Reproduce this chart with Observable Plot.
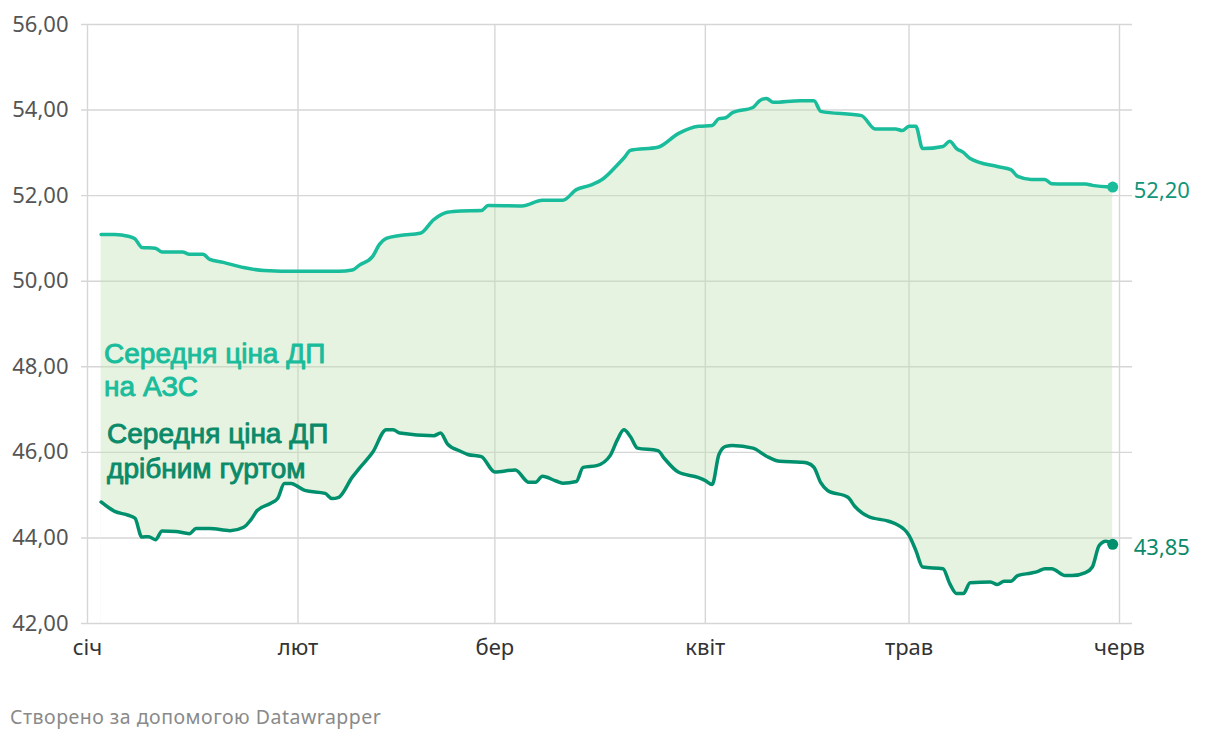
<!DOCTYPE html>
<html><head><meta charset="utf-8">
<script src="https://cdn.jsdelivr.net/npm/d3@7"></script>
<script src="https://cdn.jsdelivr.net/npm/@observablehq/plot@0.6"></script>
<style>
body{margin:0;background:#fff;font-family:"Noto Sans",sans-serif;}
#chart{position:absolute;left:0;top:0;}
#caption{position:absolute;left:10px;top:703px;font:19.5px "Noto Sans",sans-serif;letter-spacing:0.5px;color:#8a8a8a;white-space:nowrap;}
</style></head><body>
<div id="chart"></div>
<div id="caption">Створено за допомогою Datawrapper</div>
<script>
// Ukrainian month tick labels
const monthLabels = ["січ","лют","бер","квіт","трав","черв"];
const monthTickDates = ["2024-01-01","2024-02-01","2024-03-01","2024-04-01","2024-05-01","2024-06-01"];
const yTickValues = [42,44,46,48,50,52,54,56];

// Середня ціна ДП на АЗС
const upperDates = ["2024-01-03","2024-01-05","2024-01-07","2024-01-08","2024-01-09","2024-01-11","2024-01-12","2024-01-15","2024-01-16","2024-01-18","2024-01-19","2024-01-21","2024-01-24","2024-01-27",
"2024-02-01","2024-02-07","2024-02-09","2024-02-10","2024-02-12","2024-02-13","2024-02-14","2024-02-16","2024-02-19","2024-02-21","2024-02-23","2024-02-25","2024-02-28","2024-02-29",
"2024-03-05","2024-03-08","2024-03-11","2024-03-13","2024-03-15","2024-03-17","2024-03-19","2024-03-20","2024-03-21","2024-03-25","2024-03-28","2024-03-31",
"2024-04-02","2024-04-03","2024-04-04","2024-04-05","2024-04-08","2024-04-09","2024-04-10","2024-04-11","2024-04-15","2024-04-17","2024-04-18","2024-04-24","2024-04-26","2024-04-29","2024-04-30",
"2024-05-01","2024-05-02","2024-05-03","2024-05-06","2024-05-07","2024-05-08","2024-05-09","2024-05-10","2024-05-14","2024-05-16","2024-05-17","2024-05-19","2024-05-21","2024-05-22","2024-05-24","2024-05-27","2024-05-28","2024-05-31"];
const upperValues = [51.09,51.09,51.05,50.99,50.79,50.77,50.68,50.68,50.63,50.63,50.51,50.44,50.32,50.25,
50.23,50.23,50.26,50.37,50.58,50.86,51.0,51.07,51.12,51.44,51.61,51.64,51.65,51.77,
51.76,51.89,51.89,52.14,52.24,52.40,52.71,52.88,53.06,53.13,53.45,53.62,
53.64,53.80,53.82,53.94,54.06,54.22,54.27,54.18,54.22,54.22,53.97,53.87,53.56,53.56,53.52,
53.62,53.62,53.10,53.15,53.27,53.10,53.01,52.87,52.68,52.61,52.45,52.38,52.38,52.28,52.27,52.27,52.24,52.20];

// Середня ціна ДП дрібним гуртом
const lowerDates = ["2024-01-03","2024-01-05","2024-01-07","2024-01-08","2024-01-09","2024-01-10","2024-01-11","2024-01-12","2024-01-14","2024-01-16","2024-01-17","2024-01-19","2024-01-22","2024-01-24","2024-01-25","2024-01-26","2024-01-28","2024-01-29","2024-01-30","2024-01-31",
"2024-02-01","2024-02-02","2024-02-05","2024-02-06","2024-02-07","2024-02-09","2024-02-10","2024-02-12","2024-02-14","2024-02-15","2024-02-16","2024-02-21","2024-02-22","2024-02-23","2024-02-25","2024-02-26","2024-02-28",
"2024-03-01","2024-03-04","2024-03-06","2024-03-07","2024-03-08","2024-03-10","2024-03-11","2024-03-13","2024-03-14","2024-03-16","2024-03-18","2024-03-19","2024-03-20","2024-03-21","2024-03-22","2024-03-25","2024-03-26","2024-03-28","2024-03-31",
"2024-04-01","2024-04-02","2024-04-03","2024-04-04","2024-04-05","2024-04-08","2024-04-10","2024-04-12","2024-04-15","2024-04-16","2024-04-17","2024-04-18","2024-04-19","2024-04-22","2024-04-23","2024-04-25","2024-04-28","2024-04-29",
"2024-05-01","2024-05-02","2024-05-03","2024-05-06","2024-05-07","2024-05-08","2024-05-09","2024-05-10","2024-05-13","2024-05-14","2024-05-15","2024-05-16","2024-05-17","2024-05-19","2024-05-20","2024-05-21","2024-05-22","2024-05-24","2024-05-25","2024-05-27","2024-05-28","2024-05-29","2024-05-30","2024-05-31"];
const lowerValues = [44.84,44.62,44.53,44.46,44.02,44.03,43.96,44.16,44.15,44.10,44.22,44.22,44.17,44.25,44.41,44.64,44.81,44.92,45.27,45.27,
45.20,45.11,45.04,44.92,44.95,45.42,45.62,46.0,46.53,46.53,46.45,46.39,46.45,46.20,46.02,45.95,45.90,
45.54,45.59,45.30,45.30,45.44,45.33,45.28,45.32,45.65,45.69,45.93,46.28,46.53,46.36,46.10,46.04,45.85,45.54,45.41,
45.34,45.25,45.95,46.14,46.16,46.10,45.91,45.79,45.77,45.75,45.65,45.29,45.11,44.95,44.74,44.50,44.39,44.33,
44.06,43.71,43.32,43.28,42.93,42.70,42.70,42.95,42.97,42.91,42.99,42.99,43.12,43.18,43.22,43.28,43.28,43.12,43.12,43.19,43.32,43.82,43.92,43.85];

// Series labels (anchored at data coordinates)
const upperLabel = [{date:"2024-01-03", value:47.31, text:"Середня ціна ДП\nна АЗС"}];
const lowerLabel = [{date:"2024-01-03", value:45.41, text:"Середня ціна ДП\nдрібним гуртом"}];

const upper = upperDates.map((d,i)=>({date:new Date(d), value:upperValues[i]}));
const lower = lowerDates.map((d,i)=>({date:new Date(d), value:lowerValues[i]}));
const monthTicks = monthTickDates.map(d=>new Date(d));
const fmt = v => v.toFixed(2).replace(".", ",");
const toDate = d => ({...d, date:new Date(d.date)});

const C_UP = "#19bc9b", C_LO = "#00906d";
const C_UP_TXT = "#12957a", C_LO_TXT = "#0b8a69";
const GRID = "#d6d6d6";
const gridOpts = {stroke:GRID, strokeOpacity:1, strokeWidth:1.4};
const AXIS_FONT = "Noto Sans, Roboto, sans-serif";

const chart = Plot.plot({
  width:1220, height:680,
  marginLeft:81, marginRight:88, marginTop:24, marginBottom:57,
  style:{fontFamily:AXIS_FONT, fontSize:"22px", background:"transparent", overflow:"visible"},
  x:{type:"utc", domain:[monthTicks[0], monthTicks[5]], range:[87,1119]},
  y:{domain:[42,56]},
  marks:[
    Plot.gridY(yTickValues, gridOpts),
    Plot.gridX(monthTicks, gridOpts),
    Plot.areaY(upper,{x:"date", y1:42, y2:"value", fill:"#c0e1b2", fillOpacity:0.4, curve:"monotone-x"}),
    Plot.areaY(lower,{x:"date", y1:42, y2:"value", fill:"#ffffff", curve:"monotone-x"}),
    Plot.gridY(yTickValues, gridOpts),
    Plot.gridX(monthTicks, gridOpts),
    Plot.axisY(yTickValues,{tickSize:0, tickPadding:13, tickFormat:fmt, fill:"#555", fontSize:22, label:null}),
    Plot.axisX(monthTicks,{tickSize:0, tickPadding:16, tickFormat:d=>monthLabels[d.getUTCMonth()], fill:"#333", fontSize:22, label:null}),
    Plot.line(upper,{x:"date", y:"value", stroke:C_UP, strokeWidth:3.5, curve:"monotone-x"}),
    Plot.line(lower,{x:"date", y:"value", stroke:C_LO, strokeWidth:3.5, curve:"monotone-x"}),
    Plot.dot([upper[upper.length-1]],{x:"date", y:"value", r:5.5, fill:C_UP}),
    Plot.dot([lower[lower.length-1]],{x:"date", y:"value", r:5.5, fill:C_LO}),
    Plot.text([upper[upper.length-1]],{x:"date", y:"value", text:d=>fmt(d.value), dx:21, dy:4, textAnchor:"start", fill:C_UP_TXT, fontSize:22}),
    Plot.text([lower[lower.length-1]],{x:"date", y:"value", text:d=>fmt(d.value), dx:21, dy:4, textAnchor:"start", fill:C_LO_TXT, fontSize:22}),
    Plot.text(upperLabel.map(toDate),{x:"date", y:"value", text:"text", dx:3, textAnchor:"start", lineAnchor:"bottom", lineHeight:1.18, fontSize:28, fontFamily:"Liberation Sans, Arial, sans-serif", fill:C_UP, stroke:C_UP, strokeWidth:0.9}),
    Plot.text(lowerLabel.map(toDate),{x:"date", y:"value", text:"text", dx:6, textAnchor:"start", lineAnchor:"bottom", lineHeight:1.22, fontSize:28, fontFamily:"Liberation Sans, Arial, sans-serif", fill:C_LO_TXT, stroke:C_LO_TXT, strokeWidth:0.9})
  ]
});
document.getElementById("chart").appendChild(chart);

// Clip the second copy of the grid to the region below the lower line (white mask),
// so the grid stays visible there while the green band keeps its own tint.
(function(){
  const svg = chart.tagName.toLowerCase() === "svg" ? chart : chart.querySelector("svg");
  const areaPaths = svg.querySelectorAll('g[aria-label="area"] path');
  if (areaPaths.length < 2) return;
  const ns = "http://www.w3.org/2000/svg";
  const defs = document.createElementNS(ns, "defs");
  const cp = document.createElementNS(ns, "clipPath");
  cp.setAttribute("id", "lowerClip");
  const p = document.createElementNS(ns, "path");
  p.setAttribute("d", areaPaths[1].getAttribute("d"));
  cp.appendChild(p); defs.appendChild(cp); svg.insertBefore(defs, svg.firstChild);
  const yg = svg.querySelectorAll('g[aria-label="y-grid"]');
  const xg = svg.querySelectorAll('g[aria-label="x-grid"]');
  if (yg[1]) yg[1].setAttribute("clip-path", "url(#lowerClip)");
  if (xg[1]) xg[1].setAttribute("clip-path", "url(#lowerClip)");
})();
</script>
</body></html>
